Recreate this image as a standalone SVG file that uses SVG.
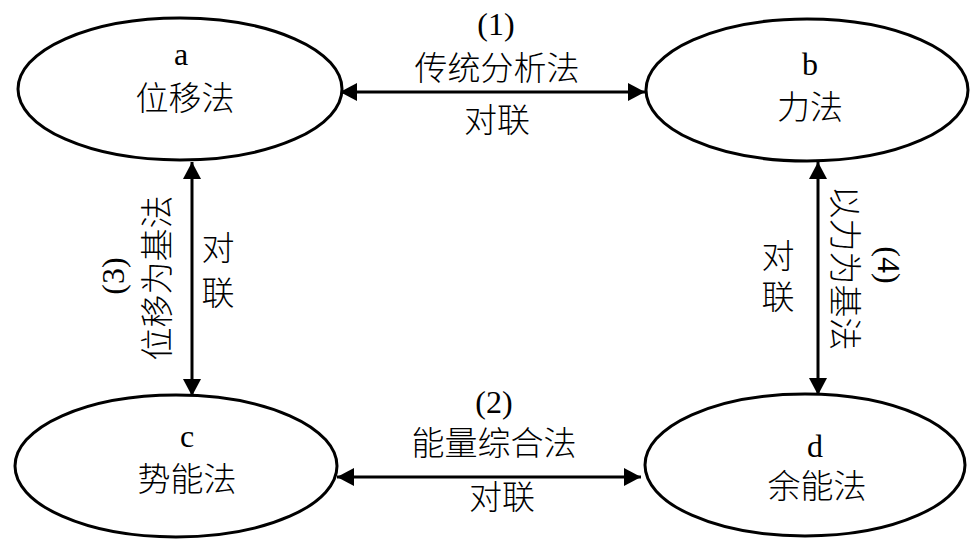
<svg xmlns="http://www.w3.org/2000/svg" width="979" height="545" viewBox="0 0 979 545">
<style>
.node{fill:#fff;stroke:#000;stroke-width:3}
.t{font-family:"Liberation Serif","Noto Sans CJK SC",serif;font-size:32px;fill:#000;text-anchor:middle}
.c{font-family:"Liberation Serif","Noto Sans CJK SC",serif;font-size:33px;font-weight:300;fill:#000;text-anchor:middle}
.conn{stroke:#000;stroke-width:3;fill:none;marker-start:url(#ah);marker-end:url(#ah)}
</style>
<defs>
<marker id="ah" markerUnits="userSpaceOnUse" markerWidth="18" markerHeight="18" refX="17" refY="9" orient="auto-start-reverse" viewBox="0 0 18 18">
<path d="M0,0 L17,9 L0,18 Z" fill="#000"/>
</marker>
</defs>
<rect width="979" height="545" fill="#fff"/>
<g id="connectors">
<line class="conn" x1="340" y1="92" x2="645" y2="92"/>
<line class="conn" x1="337" y1="477" x2="641" y2="477"/>
<line class="conn" x1="192" y1="162" x2="192" y2="396"/>
<line class="conn" x1="818" y1="162" x2="818" y2="395"/>
</g>
<g id="node-a">
<ellipse class="node" cx="180" cy="89" rx="162" ry="71"/>
<text class="t" x="181" y="65">a</text>
<text class="c" x="185" y="110">位移法</text>
</g>
<g id="node-b">
<ellipse class="node" cx="807" cy="90" rx="161" ry="71"/>
<text class="t" x="810" y="75">b</text>
<text class="c" x="810" y="119">力法</text>
</g>
<g id="node-c">
<ellipse class="node" cx="176" cy="466" rx="161" ry="71"/>
<text class="t" x="187" y="447">c</text>
<text class="c" x="187" y="491">势能法</text>
</g>
<g id="node-d">
<ellipse class="node" cx="805" cy="465" rx="160" ry="71"/>
<text class="t" x="815" y="457">d</text>
<text class="c" x="817" y="498">余能法</text>
</g>
<g id="labels">
<text class="t" x="496" y="35">(1)</text>
<text class="c" x="497" y="80">传统分析法</text>
<text class="c" x="497" y="132">对联</text>
<text class="t" x="494" y="413">(2)</text>
<text class="c" x="494" y="455">能量综合法</text>
<text class="c" x="502" y="509">对联</text>
<text class="c" transform="translate(156,278) rotate(-90)" x="0" y="12.5">位移为基法</text>
<text class="t" transform="translate(116,276) rotate(-90)" x="0" y="8">(3)</text>
<text class="c" x="218" y="260">对</text>
<text class="c" x="218" y="305">联</text>
<text class="c" transform="translate(845,268) rotate(90)" x="0" y="12.5">以力为基法</text>
<text class="t" transform="translate(886,265) rotate(90)" x="0" y="8">(4)</text>
<text class="c" x="778" y="268">对</text>
<text class="c" x="778" y="309">联</text>
</g>
</svg>
